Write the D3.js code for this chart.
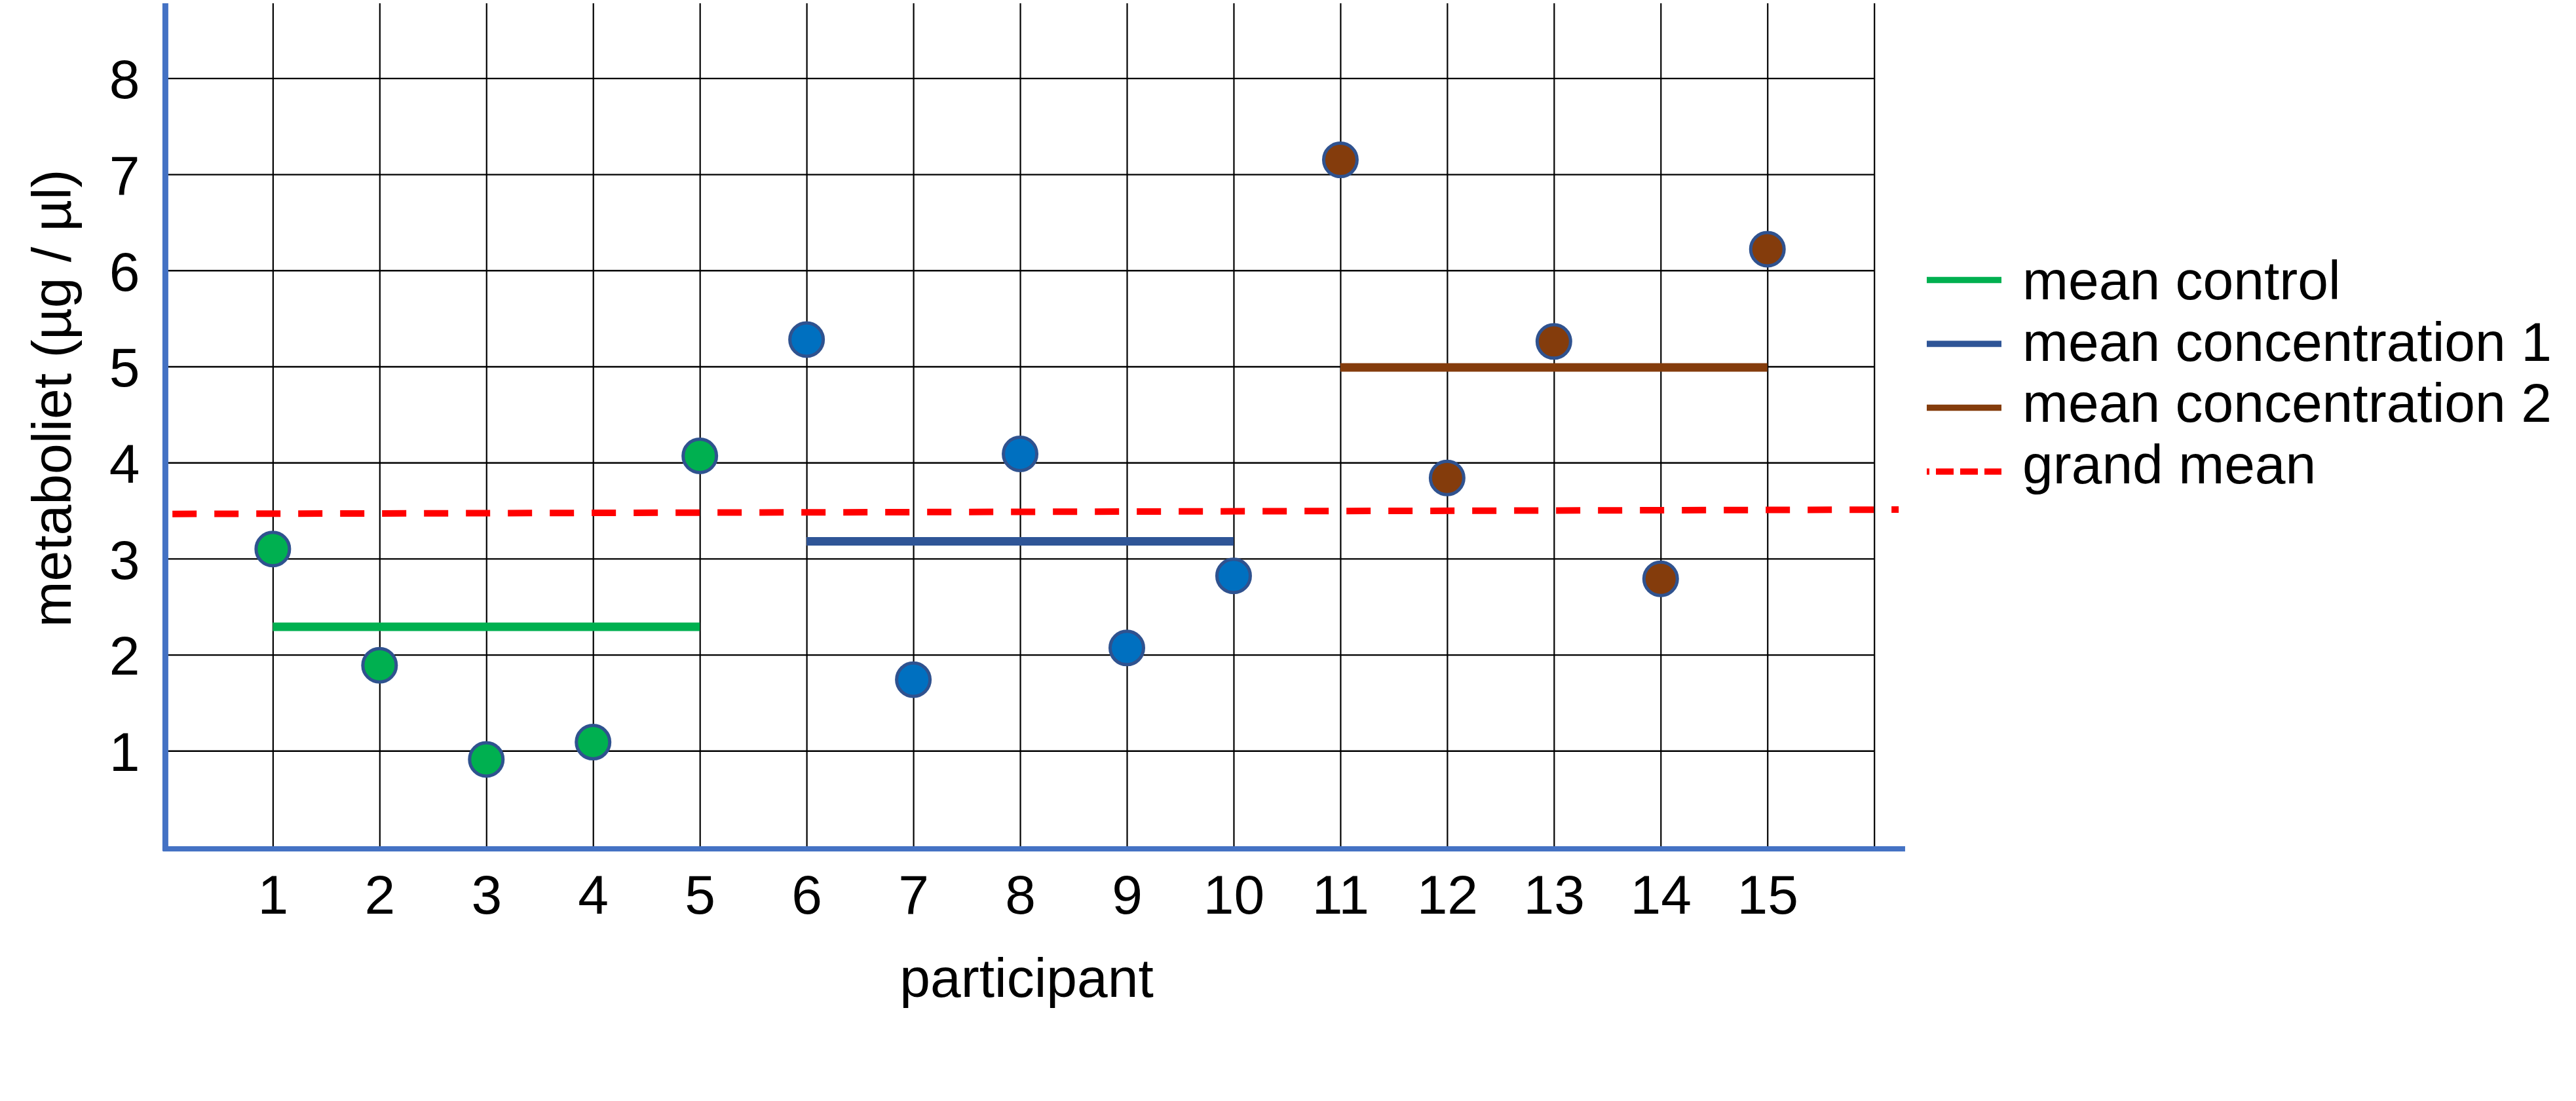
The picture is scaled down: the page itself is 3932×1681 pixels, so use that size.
<!DOCTYPE html>
<html>
<head>
<meta charset="utf-8">
<script src="https://cdn.jsdelivr.net/npm/d3@7"></script>
<style>
  html, body { margin: 0; padding: 0; background: #ffffff; }
  svg { display: block; }
  text { font-family: "Liberation Sans", Arial, sans-serif; fill: #000; }
</style>
</head>
<body>
<svg id="chart" width="3932" height="1681"></svg>
<script>
// ---- data ----
const participants = [1, 2, 3, 4, 5, 6, 7, 8, 9, 10, 11, 12, 13, 14, 15];
const values = [3.10, 1.89, 0.91, 1.09, 4.07, 5.28, 1.74, 4.09, 2.07, 2.82, 7.15, 3.84, 5.26, 2.79, 6.22];
const groupOf = ["control", "control", "control", "control", "control",
                 "conc1", "conc1", "conc1", "conc1", "conc1",
                 "conc2", "conc2", "conc2", "conc2", "conc2"];
const groupKeys = ["control", "conc1", "conc2"];
const groupStart = [1, 6, 11];
const groupEnd = [5, 10, 15];
const groupMeans = [2.29, 3.18, 4.99];
const grandMeanX = [0.06, 16.23];
const grandMeanY = [3.465, 3.51];
const yTicks = [1, 2, 3, 4, 5, 6, 7, 8];
const xGrid = [1, 2, 3, 4, 5, 6, 7, 8, 9, 10, 11, 12, 13, 14, 15, 16];
const legendLabels = ["mean control", "mean concentration 1", "mean concentration 2", "grand mean"];
const xTitle = "participant";
const yTitle = "metaboliet (µg / µl)";

// ---- styles ----
const pointFill = { control: "#00B050", conc1: "#0070C0", conc2: "#843C0C" };
const lineColor = { control: "#00B050", conc1: "#2F5597", conc2: "#843C0C" };
const legendColors = ["#00B050", "#2F5597", "#843C0C", "#FF0000"];
const axisColor = "#4472C4";
const FONT = 84;

const svg = d3.select("#chart");

const x = d3.scaleLinear().domain([0, 16]).range([253.4, 2860.7]);
const y = d3.scaleLinear().domain([0, 8.78]).range([1293, 5]);

// ---- grid (via axes) ----
const gridW = x(16) - x(0);
const gridH = y(0) - y(8.78);

const yAxisG = svg.append("g")
  .attr("transform", `translate(${x(0)},0)`)
  .call(d3.axisLeft(y).tickValues(yTicks).tickSize(-gridW).tickPadding(40).tickFormat(d3.format("d")));
yAxisG.select(".domain").remove();
yAxisG.selectAll(".tick line").attr("stroke", "#000").attr("stroke-width", 2.4);
yAxisG.selectAll(".tick text")
  .attr("font-size", FONT).attr("font-family", '"Liberation Sans", Arial, sans-serif')
  .attr("fill", "#000").attr("dy", "0.36em");

const xAxisG = svg.append("g")
  .attr("transform", `translate(0,${y(0)})`)
  .call(d3.axisBottom(x).tickValues(xGrid).tickSize(-gridH).tickPadding(42)
        .tickFormat(d => participants.includes(d) ? String(d) : ""));
xAxisG.select(".domain").remove();
xAxisG.selectAll(".tick line").attr("stroke", "#000").attr("stroke-width", 2.2);
xAxisG.selectAll(".tick text")
  .attr("font-size", FONT).attr("font-family", '"Liberation Sans", Arial, sans-serif')
  .attr("fill", "#000").attr("dy", "0.71em");

// ---- axis lines ----
svg.append("line")
  .attr("x1", x(0) - 1).attr("x2", x(0) - 1)
  .attr("y1", y(8.78)).attr("y2", y(0) + 6)
  .attr("stroke", axisColor).attr("stroke-width", 9);
svg.append("line")
  .attr("x1", x(0) - 5).attr("x2", x(16.29))
  .attr("y1", y(0) + 3).attr("y2", y(0) + 3)
  .attr("stroke", axisColor).attr("stroke-width", 8);

// ---- grand mean ----
svg.append("line")
  .attr("x1", x(grandMeanX[0])).attr("x2", x(grandMeanX[1]))
  .attr("y1", y(grandMeanY[0])).attr("y2", y(grandMeanY[1]))
  .attr("stroke", "#FF0000").attr("stroke-width", 10)
  .attr("stroke-dasharray", "37 27");

// ---- group mean lines ----
svg.append("g").selectAll("line")
  .data(groupKeys)
  .join("line")
  .attr("x1", (d, i) => x(groupStart[i]))
  .attr("x2", (d, i) => x(groupEnd[i]))
  .attr("y1", (d, i) => y(groupMeans[i]))
  .attr("y2", (d, i) => y(groupMeans[i]))
  .attr("stroke", d => lineColor[d])
  .attr("stroke-width", 13);

// ---- points ----
svg.append("g").selectAll("circle")
  .data(participants)
  .join("circle")
  .attr("cx", d => x(d))
  .attr("cy", (d, i) => y(values[i]))
  .attr("r", 25.5)
  .attr("fill", (d, i) => pointFill[groupOf[i]])
  .attr("stroke", "#2F528F")
  .attr("stroke-width", 5);

// ---- axis titles ----
svg.append("text")
  .attr("x", 1567).attr("y", 1522)
  .attr("text-anchor", "middle")
  .attr("font-size", FONT)
  .text(xTitle);

svg.append("text")
  .attr("transform", "translate(108,608) rotate(-90)")
  .attr("text-anchor", "middle")
  .attr("font-size", FONT)
  .text(yTitle);

// ---- legend ----
const legend = svg.append("g");
legendLabels.forEach((lab, i) => {
  const ly = 427.5 + 97.5 * i;
  const ty = 457 + 93.5 * i;
  const ln = legend.append("line")
    .attr("x1", 2941).attr("x2", 3055)
    .attr("y1", ly).attr("y2", ly)
    .attr("stroke", legendColors[i]).attr("stroke-width", 9.5);
  if (i === 3) ln.attr("stroke-dasharray", "27 10").attr("stroke-dashoffset", 23);
  legend.append("text")
    .attr("x", 3087).attr("y", ty)
    .attr("font-size", FONT)
    .text(lab);
});
</script>
</body>
</html>
